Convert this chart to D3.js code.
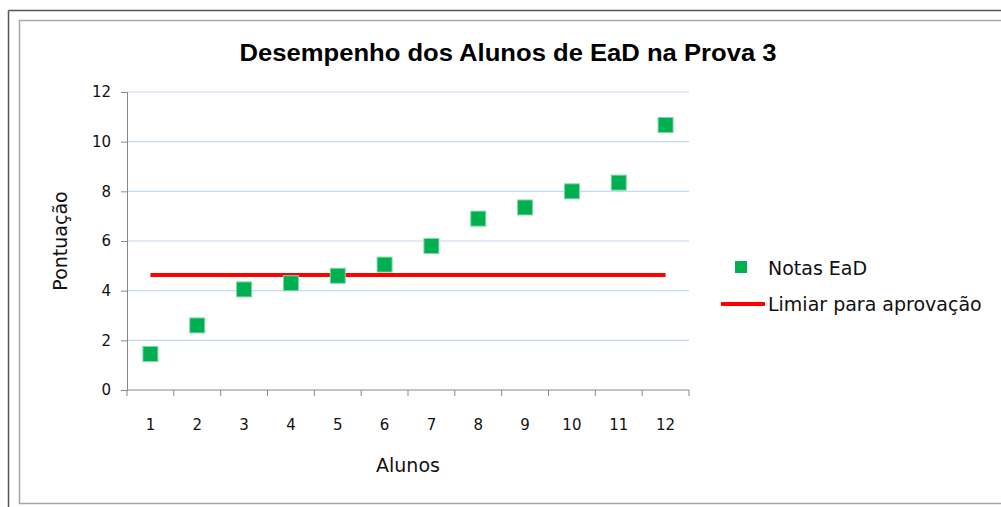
<!DOCTYPE html>
<html>
<head>
<meta charset="utf-8">
<script src="https://cdn.jsdelivr.net/npm/d3@7"></script>
<style>
  body { margin: 0; background: #fff; }
  text { font-family: "DejaVu Sans", Verdana, sans-serif; }
</style>
</head>
<body>
<div id="chart"></div>
<script>
// Data
const alunos = [1, 2, 3, 4, 5, 6, 7, 8, 9, 10, 11, 12];
const notas = [1.45, 2.6, 4.05, 4.3, 4.6, 5.05, 5.8, 6.9, 7.35, 8.0, 8.35, 10.67];
const limiar = 4.63;
const yTicks = [0, 2, 4, 6, 8, 10, 12];

const W = 1001, H = 507;
const margin = {top: 92, right: 312, bottom: 117, left: 127};
const width = W - margin.left - margin.right,
      height = H - margin.top - margin.bottom;

const svg = d3.select("#chart").append("svg")
    .attr("width", W)
    .attr("height", H);

// Chart frames
svg.append("line").attr("x1", 8.5).attr("x2", W).attr("y1", 10.5).attr("y2", 10.5)
    .attr("stroke", "#555").attr("stroke-width", 1.5);
svg.append("line").attr("x1", 8.5).attr("x2", 8.5).attr("y1", 10.5).attr("y2", H)
    .attr("stroke", "#555").attr("stroke-width", 1.5);
svg.append("rect").attr("x", 19.5).attr("y", 20.5).attr("width", W).attr("height", 483)
    .attr("fill", "none").attr("stroke", "#a6a6a6").attr("stroke-width", 1.5);

const g = svg.append("g").attr("transform", `translate(${margin.left},${margin.top})`);

const x = d3.scaleBand().domain(alunos).range([0, width]);
const y = d3.scaleLinear().domain([0, 12]).range([height, 0]);

// Gridlines
g.selectAll(".grid")
  .data(yTicks.filter(d => d > 0))
  .join("line")
    .attr("x1", 0).attr("x2", width)
    .attr("y1", d => y(d)).attr("y2", d => y(d))
    .attr("stroke", "#c6d9f1").attr("stroke-width", 1.2);

// Y axis
const yAxis = g.append("g")
    .call(d3.axisLeft(y).tickValues(yTicks).tickSize(6).tickPadding(10));
yAxis.select(".domain").attr("stroke", "#888");
yAxis.selectAll(".tick line").attr("stroke", "#888");
yAxis.selectAll("text")
    .style("font-family", "'DejaVu Sans', sans-serif")
    .style("font-size", "15px").attr("fill", "#111");

// X axis: ticks at band boundaries
const xAxis = g.append("g").attr("transform", `translate(0,${height})`);
xAxis.append("line").attr("x1", 0).attr("x2", width).attr("stroke", "#888");
xAxis.selectAll(".bt")
  .data(d3.range(alunos.length + 1))
  .join("line")
    .attr("x1", i => i * x.bandwidth()).attr("x2", i => i * x.bandwidth())
    .attr("y1", 0).attr("y2", 6)
    .attr("stroke", "#888");
xAxis.selectAll(".lbl")
  .data(alunos)
  .join("text")
    .attr("x", d => x(d) + x.bandwidth() / 2)
    .attr("y", 40)
    .attr("text-anchor", "middle")
    .attr("fill", "#111")
    .style("font-size", "15px")
    .text(d => d);

// Threshold line
g.append("line")
    .attr("x1", x(alunos[0]) + x.bandwidth() / 2)
    .attr("x2", x(alunos[alunos.length - 1]) + x.bandwidth() / 2)
    .attr("y1", y(limiar)).attr("y2", y(limiar))
    .attr("stroke", "#ff0000").attr("stroke-width", 4);

// Points
const s = 15;
g.selectAll(".pt")
  .data(alunos.map((a, i) => ({a, v: notas[i]})))
  .join("rect")
    .attr("x", d => x(d.a) + x.bandwidth() / 2 - s / 2)
    .attr("y", d => y(d.v) - s / 2)
    .attr("width", s).attr("height", s)
    .attr("fill", "#00b050")
    .attr("stroke", "#7fd8a8").attr("stroke-width", 1);

// Title
svg.append("text")
    .attr("x", 508).attr("y", 61)
    .attr("text-anchor", "middle")
    .attr("textLength", 537)
    .attr("lengthAdjust", "spacingAndGlyphs")
    .style("font-family", "'Liberation Sans', Arial, sans-serif")
    .style("font-size", "23px").style("font-weight", "bold")
    .text("Desempenho dos Alunos de EaD na Prova 3");

// Axis titles
svg.append("text")
    .attr("x", 408).attr("y", 472)
    .attr("text-anchor", "middle")
    .attr("fill", "#111")
    .style("font-size", "19px")
    .text("Alunos");

svg.append("text")
    .attr("transform", "translate(67,241) rotate(-90)")
    .attr("text-anchor", "middle")
    .attr("fill", "#111")
    .style("font-size", "19px")
    .text("Pontuação");

// Legend
svg.append("rect")
    .attr("x", 735).attr("y", 261).attr("width", 12).attr("height", 12)
    .attr("fill", "#00b050");
svg.append("text")
    .attr("x", 768).attr("y", 275)
    .attr("fill", "#111")
    .style("font-size", "19px")
    .text("Notas EaD");
svg.append("line")
    .attr("x1", 721).attr("x2", 765).attr("y1", 304).attr("y2", 304)
    .attr("stroke", "#ff0000").attr("stroke-width", 4);
svg.append("text")
    .attr("x", 768).attr("y", 311)
    .attr("fill", "#111")
    .style("font-size", "19px")
    .text("Limiar para aprovação");
</script>
</body>
</html>
